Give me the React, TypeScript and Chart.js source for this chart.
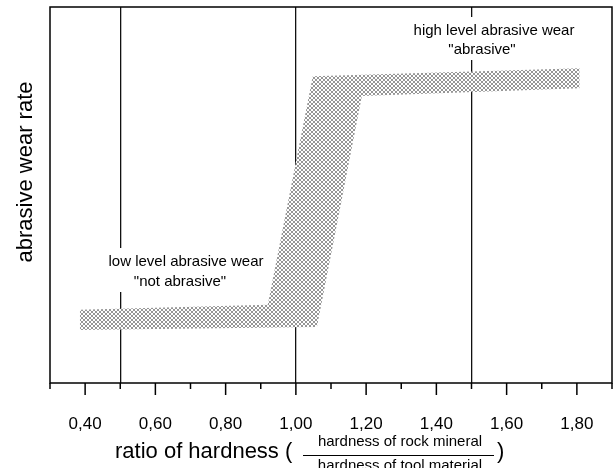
import React, { useEffect, useRef } from 'react';
import { Chart, registerables } from 'chart.js';

Chart.register(...registerables);

// ---- data ----
const X_MIN = 0.3;
const X_MAX = 1.9;
const Y_MIN = 0;
const Y_MAX = 100;
const labeledTicks = [0.4, 0.6, 0.8, 1.0, 1.2, 1.4, 1.6, 1.8];
const refLines = [0.5, 1.0, 1.5];
const bandUpperX = [0.385, 0.92, 1.048, 1.808];
const bandUpperY = [19.5, 20.8, 81.6, 83.7];
const bandLowerX = [0.385, 1.06, 1.188, 1.808];
const bandLowerY = [14.1, 14.9, 76.3, 78.4];

const yTitle = 'abrasive wear rate';
const xTitle = 'ratio of hardness (';
const xTitleClose = ')';
const fracTop = 'hardness of rock mineral';
const fracBottom = 'hardness of tool material';
const highLabel = ['high level abrasive wear', '"abrasive"'];
const lowLabel = ['low level abrasive wear', '"not abrasive"'];

const FONT = 'Arial, "Liberation Sans", sans-serif';

function makePattern(): CanvasPattern | string {
  const c = document.createElement('canvas');
  c.width = 4;
  c.height = 4;
  const g = c.getContext('2d');
  if (!g) return '#c8c8c8';
  g.fillStyle = '#ffffff';
  g.fillRect(0, 0, 4, 4);
  g.fillStyle = '#969696';
  for (let i = 0; i < 4; i++) {
    g.fillRect(i, i, 1, 1);
    g.fillRect(3 - i, i, 1, 1);
  }
  const p = g.createPattern(c, 'repeat');
  return p || '#c8c8c8';
}

const decorPlugin = {
  id: 'decor',
  afterDatasetsDraw(chart: any) {
    const ctx: CanvasRenderingContext2D = chart.ctx;
    const block = (lines: string[], cx: number[], cy: number[]) => {
      ctx.save();
      ctx.font = `15px ${FONT}`;
      let minX = Infinity;
      let maxX = -Infinity;
      lines.forEach((t, i) => {
        const w = ctx.measureText(t).width;
        minX = Math.min(minX, cx[i] - w / 2);
        maxX = Math.max(maxX, cx[i] + w / 2);
      });
      ctx.fillStyle = '#ffffff';
      const top = cy[0] - 14;
      const bottom = cy[cy.length - 1] + 10;
      ctx.fillRect(minX - 3, top, maxX - minX + 6, bottom - top);
      ctx.fillStyle = '#000000';
      ctx.textAlign = 'center';
      ctx.textBaseline = 'middle';
      lines.forEach((t, i) => ctx.fillText(t, cx[i], cy[i]));
      ctx.restore();
    };
    block(highLabel, [494, 482], [31, 50]);
    block(lowLabel, [186, 180], [262, 282]);
  },
  afterDraw(chart: any) {
    const ctx: CanvasRenderingContext2D = chart.ctx;
    const { left, right, top, bottom } = chart.chartArea;
    const xs = chart.scales.x;
    ctx.save();
    ctx.strokeStyle = '#000000';
    ctx.lineWidth = 1.5;
    ctx.strokeRect(left, top, right - left, bottom - top);
    // tick marks
    for (let i = Math.round(X_MIN * 10); i <= Math.round(X_MAX * 10); i++) {
      const v = i / 10;
      const px = xs.getPixelForValue(v);
      const len = i % 2 === 0 ? 12 : 6;
      ctx.beginPath();
      ctx.moveTo(px, bottom);
      ctx.lineTo(px, bottom + len);
      ctx.stroke();
    }
    // y title
    ctx.fillStyle = '#000000';
    ctx.save();
    ctx.translate(26, 172);
    ctx.rotate(-Math.PI / 2);
    ctx.font = `22px ${FONT}`;
    ctx.textAlign = 'center';
    ctx.textBaseline = 'middle';
    ctx.fillText(yTitle, 0, 0);
    ctx.restore();
    // x title
    ctx.font = `22px ${FONT}`;
    ctx.textAlign = 'left';
    ctx.textBaseline = 'middle';
    ctx.fillText(xTitle, 115, 452);
    ctx.fillText(xTitleClose, 497, 452);
    ctx.font = `15px ${FONT}`;
    ctx.textAlign = 'center';
    ctx.fillText(fracTop, 400, 442);
    ctx.fillText(fracBottom, 400, 466);
    ctx.lineWidth = 1;
    ctx.beginPath();
    ctx.moveTo(303, 455.5);
    ctx.lineTo(494, 455.5);
    ctx.stroke();
    ctx.restore();
  },
};

export default function App() {
  const ref = useRef<HTMLCanvasElement | null>(null);

  useEffect(() => {
    const canvas = ref.current;
    if (!canvas) return;
    const pattern = makePattern();
    const upper = bandUpperX.map((x, i) => ({ x, y: bandUpperY[i] }));
    const lower = bandLowerX.map((x, i) => ({ x, y: bandLowerY[i] }));

    const chart = new Chart(canvas, {
      type: 'line',
      data: {
        datasets: [
          {
            data: upper,
            fill: '+1',
            backgroundColor: pattern as any,
            borderWidth: 0,
            borderColor: 'rgba(0,0,0,0)',
            pointRadius: 0,
            tension: 0,
          },
          {
            data: lower,
            fill: false,
            borderWidth: 0,
            borderColor: 'rgba(0,0,0,0)',
            pointRadius: 0,
            tension: 0,
          },
        ],
      },
      plugins: [decorPlugin],
      options: {
        animation: false,
        responsive: false,
        events: [],
        layout: { padding: { top: 7, right: 1, left: 0, bottom: 0 } },
        plugins: { legend: { display: false }, tooltip: { enabled: false } },
        scales: {
          x: {
            type: 'linear',
            min: X_MIN,
            max: X_MAX,
            border: { display: false },
            grid: {
              drawTicks: false,
              lineWidth: 1.3,
              color: (c: any) => {
                const v = c.tick ? c.tick.value : NaN;
                return refLines.some((r) => Math.abs(r - v) < 1e-6) ? '#111111' : 'rgba(0,0,0,0)';
              },
            },
            ticks: {
              stepSize: 0.1,
              autoSkip: false,
              maxRotation: 0,
              maxTicksLimit: 40,
              padding: 31,
              color: '#000000',
              font: { family: FONT, size: 17 },
              callback: (value: any) => {
                const v = Number(value);
                const hit = labeledTicks.find((t) => Math.abs(t - v) < 1e-6);
                return hit === undefined ? '' : hit.toFixed(2).replace('.', ',');
              },
            },
            afterFit: (s: any) => {
              s.height = 85;
              s.paddingLeft = 0;
              s.paddingRight = 0;
            },
          },
          y: {
            min: Y_MIN,
            max: Y_MAX,
            border: { display: false },
            grid: { display: false },
            ticks: { display: false },
            afterFit: (s: any) => {
              s.width = 50;
              s.paddingTop = 0;
              s.paddingBottom = 0;
            },
          },
        },
      },
    });
    return () => chart.destroy();
  }, []);

  return (
    <div style={{ position: 'absolute', left: 0, top: 0, width: 613, height: 468, background: '#fff' }}>
      <canvas ref={ref} width={613} height={468} style={{ width: 613, height: 468, display: 'block' }} />
    </div>
  );
}
